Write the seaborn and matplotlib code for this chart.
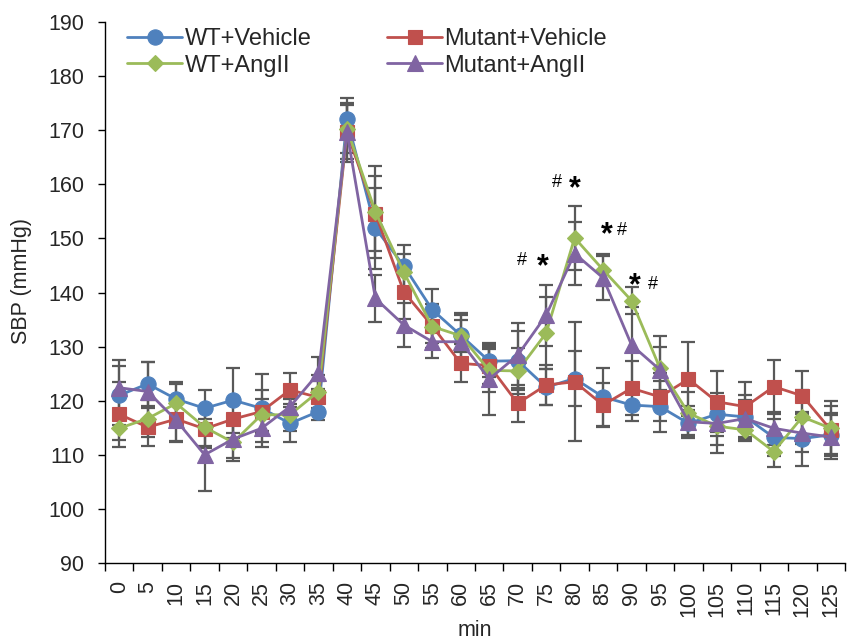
import matplotlib
matplotlib.use("Agg")
import matplotlib.pyplot as plt
import seaborn as sns
import numpy as np

# Time points (min)
minutes = [0, 5, 10, 15, 20, 25, 30, 35, 40, 45, 50, 55, 60, 65,
           70, 75, 80, 85, 90, 95, 100, 105, 110, 115, 120, 125]

# Mean SBP (mmHg) per group
wt_vehicle = [121.0, 123.1, 120.3, 118.6, 120.1, 118.6, 115.8, 118.0, 172.1,
              151.9, 144.9, 136.8, 132.1, 127.3, 127.4, 122.5, 124.1, 120.7,
              119.2, 118.9, 115.8, 117.5, 117.0, 113.2, 113.0, 113.7]
mutant_vehicle = [117.5, 115.1, 116.6, 114.8, 116.6, 118.0, 122.0, 120.6, 169.6,
                  154.6, 140.1, 133.8, 126.9, 126.5, 119.5, 122.9, 123.5, 119.2,
                  122.3, 120.7, 124.0, 119.8, 118.9, 122.6, 120.9, 114.6]
wt_angii = [114.9, 116.7, 119.5, 115.1, 112.3, 117.4, 117.4, 121.7, 170.3,
            154.9, 143.7, 133.7, 132.0, 125.6, 125.5, 132.5, 150.1, 144.2,
            138.5, 126.0, 117.7, 115.3, 114.6, 110.6, 117.0, 114.9]
mutant_angii = [122.4, 121.7, 116.4, 110.0, 112.9, 114.9, 118.9, 125.1, 169.7,
                138.9, 134.0, 130.9, 130.9, 124.0, 128.4, 135.8, 147.2, 142.7,
                130.3, 125.7, 116.1, 115.8, 116.7, 114.9, 114.0, 113.3]

# Standard errors
wt_vehicle_se = [5.5, 4.0, 3.2, 3.4, 6.0, 6.3, 3.5, 1.5, 3.8, 7.5, 3.8, 3.8, 4.2,
                 3.0, 5.4, 3.3, 5.0, 5.4, 3.0, 4.7, 2.5, 4.0, 4.0, 3.5, 5.0, 4.0]
mutant_vehicle_se = [6.0, 3.5, 4.0, 3.5, 3.5, 4.0, 3.2, 3.0, 5.5, 7.0, 5.0, 4.0, 3.5,
                     3.5, 3.4, 3.7, 11.0, 4.0, 5.0, 4.5, 6.8, 5.6, 4.5, 5.0, 4.5, 4.5]
wt_angii_se = [2.1, 3.5, 3.5, 3.5, 3.4, 3.0, 3.0, 3.0, 4.5, 8.5, 3.5, 3.0, 3.0,
               4.0, 4.3, 6.7, 5.9, 3.0, 2.5, 4.0, 4.0, 5.0, 2.0, 2.8, 5.0, 5.0]
mutant_angii_se = [5.1, 5.5, 4.0, 6.6, 3.5, 3.5, 3.5, 3.0, 5.0, 4.3, 4.0, 3.0, 5.0,
                   6.6, 6.0, 5.6, 5.8, 4.0, 7.0, 6.3, 3.0, 4.0, 3.5, 3.0, 3.5, 4.0]

groups = ["WT+Vehicle", "Mutant+Vehicle", "WT+AngII", "Mutant+AngII"]
means = [wt_vehicle, mutant_vehicle, wt_angii, mutant_angii]
errors = [wt_vehicle_se, mutant_vehicle_se, wt_angii_se, mutant_angii_se]
colors = ["#4F81BD", "#C0504D", "#9BBB59", "#8064A2"]
markers = ["o", "s", "D", "^"]
msizes = [11, 10, 8, 11]

# Significance marks: (minute position, SBP position, text, size)
sig_marks = [
    (70.7, 146.0, "#", 13), (74.5, 144.6, "*", 22),
    (76.9, 160.3, "#", 13), (80.1, 159.1, "*", 22),
    (85.7, 150.6, "*", 22), (88.3, 151.5, "#", 13),
    (90.5, 141.2, "*", 22), (93.7, 141.5, "#", 13),
]

sns.set_style("white")
plt.rcParams["font.family"] = ["Liberation Sans", "DejaVu Sans"]

fig = plt.figure(figsize=(8.47, 6.43), dpi=100)
ax = fig.add_axes([105 / 847, 1 - 563 / 643, 740 / 847, 541 / 643])

for y, e in zip(means, errors):
    ax.errorbar(minutes, y, yerr=e, fmt="none", ecolor="#595959",
                elinewidth=1.6, capsize=5, capthick=1.6, zorder=1)

for name, y, c, m, s in zip(groups, means, colors, markers, msizes):
    sns.lineplot(x=minutes, y=y, ax=ax, color=c, marker=m, markersize=s,
                 markeredgecolor=c, markeredgewidth=0.8, linewidth=2.0,
                 label=name, errorbar=None, zorder=3)

for xm, ym, t, fs in sig_marks:
    ax.text(xm, ym, t, fontsize=fs, ha="center", va="center", color="black",
            fontweight="bold" if t == "*" else "normal")

ax.set_xlim(-2.5, 127.5)
ax.set_ylim(90, 190)
ax.set_yticks(np.arange(90, 191, 10))
ax.set_xticks(minutes)
ax.set_xticklabels([str(m) for m in minutes], rotation=90)
ax.set_xticks(np.arange(-2.5, 128, 5), minor=True)
ax.tick_params(axis="x", which="major", length=0, pad=13, labelsize=15.5)
ax.tick_params(axis="x", which="minor", length=6, width=1, direction="out",
               color="black", bottom=True)
ax.tick_params(axis="y", which="major", length=5, width=1, direction="out",
               color="black", left=True, pad=10, labelsize=15.5)

for side in ["top", "right"]:
    ax.spines[side].set_visible(False)
for side in ["left", "bottom"]:
    ax.spines[side].set_color("black")
    ax.spines[side].set_linewidth(1.0)

ax.set_xlabel("min", fontsize=15.5)
ax.set_ylabel("SBP (mmHg)", fontsize=15.5)
ax.xaxis.set_label_coords(0.5, -0.124)
ax.xaxis.label.set_va("center")
ax.yaxis.set_label_coords(-0.113, 0.521)
ax.yaxis.label.set_va("center")

handles, labels = ax.get_legend_handles_labels()
order = [0, 2, 1, 3]
ax.legend([handles[i] for i in order], [labels[i] for i in order], ncol=2,
          frameon=False, loc="upper left", bbox_to_anchor=(0.03, 0.9885),
          borderaxespad=0, borderpad=0, fontsize=17, handlelength=2.33,
          handletextpad=0.1, columnspacing=3.2, labelspacing=0.19)

fig.savefig("out.png", dpi=100, facecolor="white")
